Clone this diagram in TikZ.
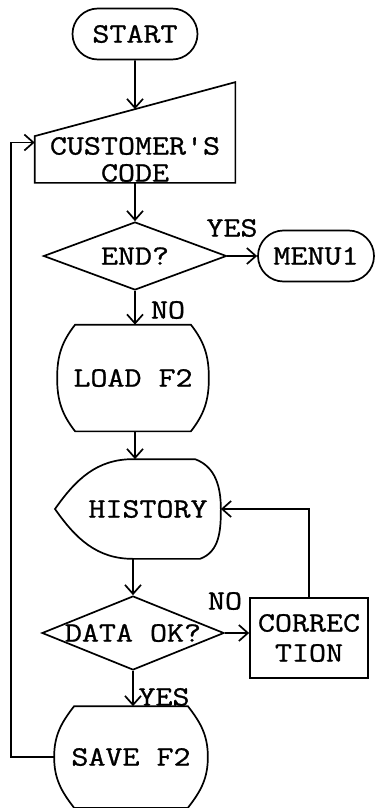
\documentclass[tikz,border=0pt]{standalone}
\usepackage{fontspec}
\newfontfamily\typefont[FakeStretch=1.18,FakeBold=1]{Latin Modern Mono}
\usetikzlibrary{shapes.geometric,shapes.misc,arrows.meta,calc}
\begin{document}
\begin{tikzpicture}
[x=1pt,y=-1pt,line width=1.7pt,>={Straight Barb[length=9pt,width=16pt]},%
  every node/.style={font=\typefont\fontsize{28}{27}\selectfont,inner sep=0pt},%
  term/.style={rounded rectangle,draw},%
  decide/.style={diamond,draw,inner xsep=-40pt},%
  box/.style={rectangle,draw,align=center}]
\useasboundingbox (0,0) rectangle (377,808);
\node[term,minimum width=125pt,minimum height=51pt] (start) at (135,34) {START};
\node[align=center,minimum width=199pt,minimum height=45pt] (code) at (135,159.5) {CUSTOMER'S\\CODE};
\node[decide,minimum width=183pt,minimum height=68pt] (endq) at (135,256) {END?};
\node[term,minimum width=116pt,minimum height=51pt] (menu) at (316,256) {MENU1};
\node[minimum width=150pt,minimum height=105pt] (load) at (133,378) {LOAD F2};
\node[minimum width=144pt,minimum height=98pt] (history) at (148,509) {HISTORY};
\node[decide,minimum width=182pt,minimum height=71pt] (dataok) at (133,633) {DATA OK?};
\node[box,minimum width=118pt,minimum height=80pt,
  font=\typefont\fontsize{28}{30}\selectfont] (corr) at (309,638) {CORREC\\TION};
\node[minimum width=152pt,minimum height=100pt] (save) at (131,757) {SAVE F2};
\node (yes1) at (232,228) {YES};
\node (no1) at (168,310) {NO};
\node (no2) at (225,601) {NO};
\node (yes2) at (164,697) {YES};
\coordinate (codetr) at ([yshift=54pt]code.north east);
\coordinate (codein) at ($(code.north west)!0.5!(codetr)$);
\draw (code.south west) -- (code.north west) -- (codetr) -- (code.south east) -- cycle;
\draw ([xshift=18pt]load.north west) -- ([xshift=-18pt]load.north east)
  to[out=-52,in=90] (load.east) to[out=-90,in=52] ([xshift=-18pt]load.south east)
  -- ([xshift=18pt]load.south west) to[out=128,in=-90] (load.west)
  to[out=90,in=-128] ([xshift=18pt]load.north west) -- cycle;
\draw ([xshift=20pt]save.north west) -- ([xshift=-20pt]save.north east)
  to[out=-52,in=90] (save.east) to[out=-90,in=52] ([xshift=-20pt]save.south east)
  -- ([xshift=20pt]save.south west) to[out=128,in=-90] (save.west)
  to[out=90,in=-128] ([xshift=20pt]save.north west) -- cycle;
\draw ([xshift=-15pt]history.north) -- ([xshift=47pt]history.north)
  to[out=-20,in=90] (history.east) to[out=-90,in=20] ([xshift=52pt]history.south)
  -- ([xshift=-15pt]history.south) to[out=180,in=-55] ([xshift=-93pt]history.center)
  to[out=55,in=180] ([xshift=-15pt]history.north) -- cycle;
\draw[->] (start) -- (codein);
\draw[->] (code) -- (endq);
\draw[->] (endq) -- (menu);
\draw[->] (endq) -- (endq |- load.north);
\draw[->] (endq |- load.south) -- (endq |- history.north);
\draw[->] (dataok.north |- history.south) -- (dataok);
\draw[->] (dataok.east) -- (dataok.east -| corr.west);
\draw[->] (corr.north) |- (history.east);
\draw[->] (dataok) -- (dataok |- save.north);
\draw[->] (save.west) -- ++(-43,0) |- ([yshift=17pt]code.west);
\end{tikzpicture}
\end{document}
